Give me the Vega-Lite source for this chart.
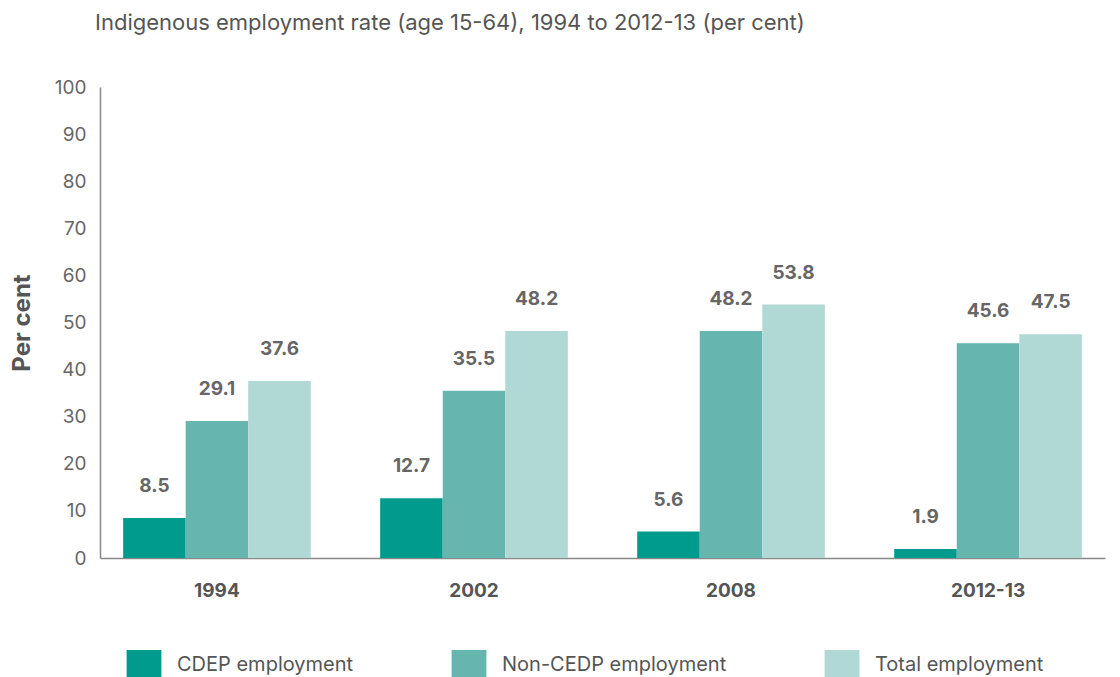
{
  "$schema": "https://vega.github.io/schema/vega-lite/v6.json",
  "width": 1005,
  "height": 471,
  "autosize": {"type": "none"},
  "padding": {"left": 100, "top": 87, "right": 15, "bottom": 119},
  "background": "white",
  "title": {
    "text": "Indigenous employment rate (age 15-64), 1994 to 2012-13 (per cent)",
    "anchor": "start",
    "frame": "group",
    "dx": -5,
    "offset": 43,
    "font": "Inter",
    "fontSize": 22,
    "fontWeight": "normal",
    "color": "#555555"
  },
  "data": {
    "values": [
      {"year": "1994", "series": "CDEP employment", "value": 8.5},
      {"year": "1994", "series": "Non-CEDP employment", "value": 29.1},
      {"year": "1994", "series": "Total employment", "value": 37.6},
      {"year": "2002", "series": "CDEP employment", "value": 12.7},
      {"year": "2002", "series": "Non-CEDP employment", "value": 35.5},
      {"year": "2002", "series": "Total employment", "value": 48.2},
      {"year": "2008", "series": "CDEP employment", "value": 5.6},
      {"year": "2008", "series": "Non-CEDP employment", "value": 48.2},
      {"year": "2008", "series": "Total employment", "value": 53.8},
      {"year": "2012-13", "series": "CDEP employment", "value": 1.9},
      {"year": "2012-13", "series": "Non-CEDP employment", "value": 45.6},
      {"year": "2012-13", "series": "Total employment", "value": 47.5}
    ]
  },
  "encoding": {
    "x": {
      "field": "year",
      "type": "nominal",
      "sort": null,
      "scale": {"paddingInner": 0.27, "paddingOuter": 0.09},
      "axis": {
        "title": null,
        "labelAngle": 0,
        "ticks": false,
        "labelPadding": 23,
        "labelFont": "Inter",
        "labelFontSize": 19,
        "labelFontWeight": "bold",
        "labelColor": "#555555",
        "domainColor": "#888888",
        "domainWidth": 1.5
      }
    },
    "xOffset": {
      "field": "series",
      "type": "nominal",
      "sort": ["CDEP employment", "Non-CEDP employment", "Total employment"]
    },
    "y": {
      "field": "value",
      "type": "quantitative",
      "scale": {"domain": [0, 100]},
      "axis": {
        "title": "Per cent",
        "titleFont": "Inter",
        "titleFontSize": 24,
        "titleFontWeight": "bold",
        "titleColor": "#555555",
        "titlePadding": 20,
        "values": [0, 10, 20, 30, 40, 50, 60, 70, 80, 90, 100],
        "grid": false,
        "ticks": false,
        "labelPadding": 14,
        "labelFont": "Inter",
        "labelFontSize": 19,
        "labelColor": "#666666",
        "domainColor": "#888888",
        "domainWidth": 1.5
      }
    }
  },
  "layer": [
    {
      "mark": {"type": "bar"},
      "encoding": {
        "color": {
          "field": "series",
          "type": "nominal",
          "sort": ["CDEP employment", "Non-CEDP employment", "Total employment"],
          "scale": {
            "domain": ["CDEP employment", "Non-CEDP employment", "Total employment"],
            "range": ["#009B8D", "#66B6AF", "#B0D8D4"]
          },
          "legend": {
            "title": null,
            "orient": "none",
            "direction": "horizontal",
            "legendX": 14,
            "legendY": 548,
            "symbolType": "M-0.58,-0.5H0.58V0.5H-0.58Z",
            "symbolSize": 3600,
            "symbolStrokeWidth": 0,
            "symbolOpacity": 1,
            "labelFont": "Inter",
            "labelFontSize": 20,
            "labelColor": "#555555",
            "labelOffset": 3,
            "labelLimit": 400,
            "columnPadding": 85
          }
        }
      }
    },
    {
      "mark": {
        "type": "text",
        "dy": -22,
        "baseline": "bottom",
        "font": "Inter",
        "fontSize": 19,
        "fontWeight": "bold",
        "color": "#666666"
      },
      "encoding": {
        "text": {"field": "value", "type": "quantitative", "format": ".1f"}
      }
    }
  ],
  "config": {"view": {"stroke": null}}
}
